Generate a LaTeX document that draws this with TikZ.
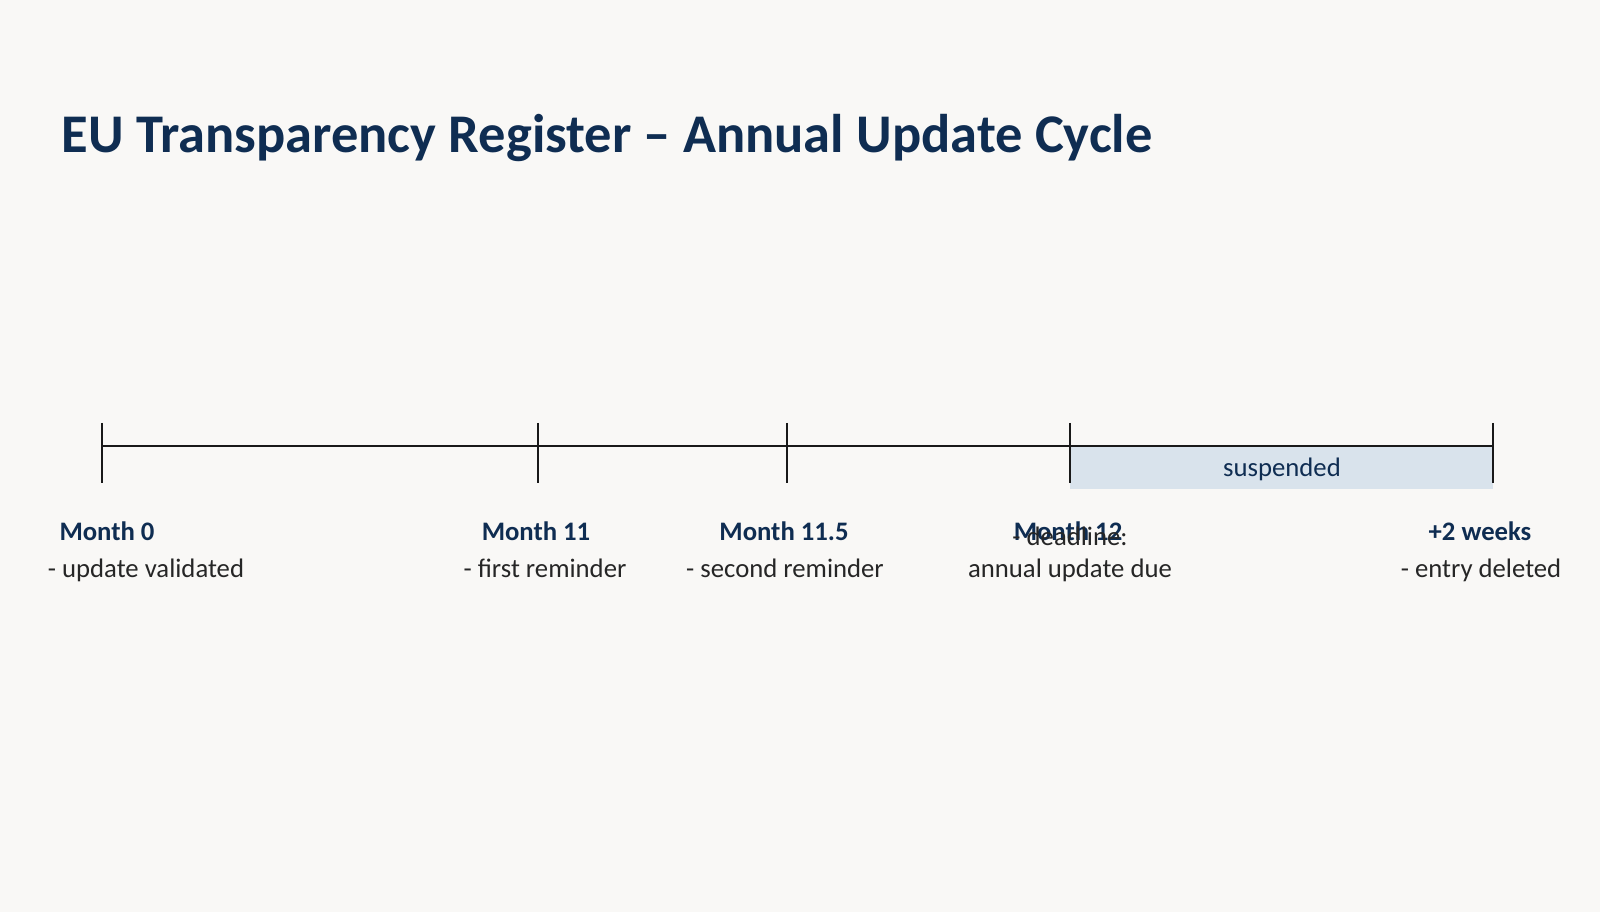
\documentclass[tikz,border=0pt]{standalone}
\usepackage{fontspec}
\setmainfont{Carlito}
\usepackage{tikz}
\usetikzlibrary{calc}
\usetikzlibrary{positioning}
\definecolor{navy}{HTML}{0F2D52}
\definecolor{bg}{HTML}{F9F8F6}
\definecolor{susp}{HTML}{D9E3EC}
\tikzset{tick/.style={draw=black!90,line width=0.8pt}}
\tikzset{when/.style={font=\fontsize{7.6}{8}\selectfont\bfseries,text=navy,inner sep=0pt,anchor=base}}
\tikzset{what/.style={font=\fontsize{7.6}{9}\selectfont,text=black!85,inner sep=0pt,align=center,anchor=base}}

\begin{document}
\begin{tikzpicture}
  \fill[bg] (0,0) rectangle (16,9.12);
  \useasboundingbox (0,0) rectangle (16,9.12);
  \node[anchor=base west,font=\fontsize{15.5}{17}\selectfont\bfseries,text=navy,inner sep=0pt] (title) at (0.61,7.59) {EU Transparency Register – Annual Update Cycle};

  % suspended period
  \fill[susp] (10.70,4.66) rectangle (14.93,4.23);
  \node[font=\fontsize{7.6}{8}\selectfont,text=navy,inner sep=0pt] (susp) at (12.82,4.43) {suspended};

  % axis and ticks
  \coordinate (t0) at (1.02,4.66);
  \coordinate (t1) at (5.38,4.66);
  \coordinate (t2) at (7.87,4.66);
  \coordinate (t3) at (10.70,4.66);
  \coordinate (t4) at (14.93,4.66);
  \draw[tick] (t0) -- (t1) -- (t2) -- (t3) -- (t4);
  \foreach \t in {t0,t1,t2,t3,t4}
    \draw[tick] ($(\t)+(0,0.23)$) -- ($(\t)+(0,-0.37)$);

  % labels
  \node[when] (m0) at (1.07,3.71) {Month 0};
  \node[what] (d0) at (1.46,3.35) {- update validated};
  \node[when] (m1) at (5.36,3.71) {Month 11};
  \node[what] (d1) at (5.45,3.35) {- first reminder};
  \node[when] (m2) at (7.84,3.71) {Month 11.5};
  \node[what] (d2) at (7.85,3.35) {- second reminder};
  \node[when] (m3) at (10.68,3.71) {Month 12};
  \node[what] (d3) at (10.70,3.35) {- deadline:\\annual update due};
  \node[when] (m4) at (14.80,3.71) {+2 weeks};
  \node[what] (d4) at (14.81,3.35) {- entry deleted};
\end{tikzpicture}
\end{document}
